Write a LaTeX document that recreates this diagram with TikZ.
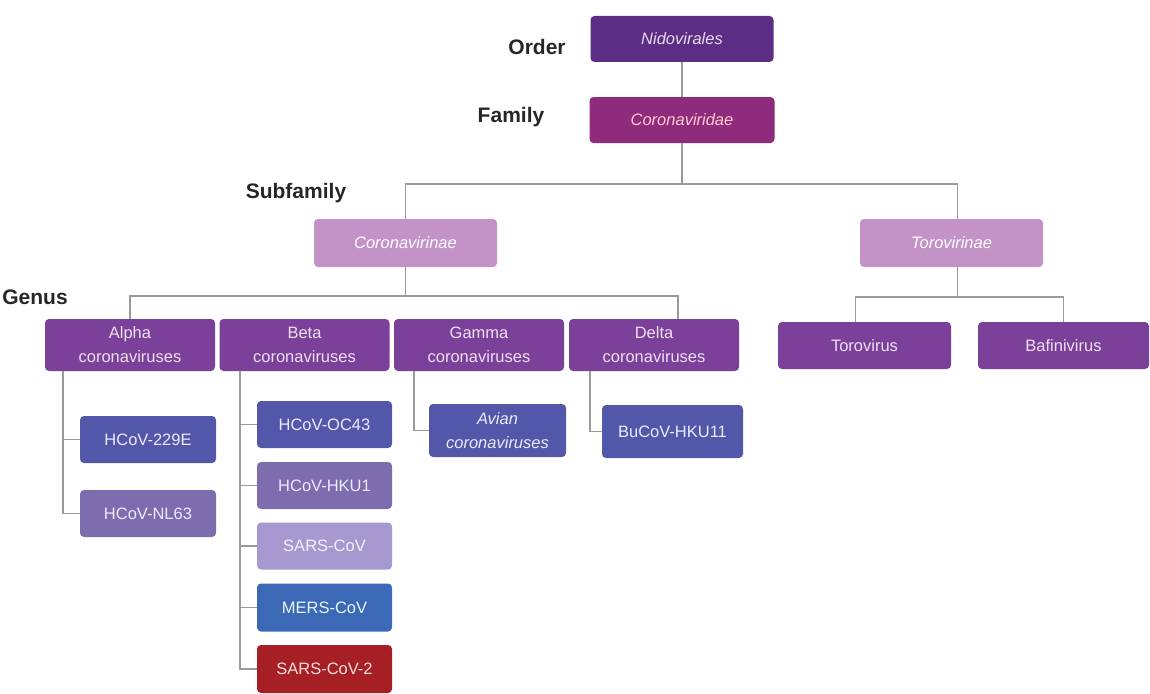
\documentclass[tikz,border=0pt]{standalone}
\usepackage{fontspec}
\setmainfont{Liberation Sans}
\usepackage{tikz}
\usetikzlibrary{positioning}
\definecolor{nido}{HTML}{5B2D85}
\definecolor{fami}{HTML}{8E2B7D}
\definecolor{subf}{HTML}{C393C8}
\definecolor{genu}{HTML}{7A409A}
\definecolor{blu}{HTML}{5357A9}
\definecolor{lav}{HTML}{7D6DAF}
\definecolor{pale}{HTML}{A699CF}
\definecolor{mers}{HTML}{3B69B6}
\definecolor{cov2}{HTML}{A51F24}
\definecolor{wire}{HTML}{9A9A9A}
\tikzset{
  box/.style={rounded corners=4pt,inner sep=0pt,align=center,
    font=\fontsize{16.5}{24}\selectfont},
  rank/.style={font=\fontsize{21}{24}\selectfont\bfseries,text=black!85},
  link/.style={draw=wire,line width=1.8pt},
}

\begin{document}
\begin{tikzpicture}[x=1pt,y=-1pt]
      \useasboundingbox (0,0) rectangle (1150,693);

      \node[rank] (order) at (537,47) {Order};
      \node[rank] (family) at (511,117) {Family};
      \node[rank] (subfamily) at (296,193) {Subfamily};
      \node[rank] (genus) at (35,297) {Genus};

      \node[box,fill=nido,text=violet!15,minimum width=183,minimum height=46] (nido) at (682,39) {\itshape Nidovirales};
      \node[box,fill=fami,text=pink!80,minimum width=185,minimum height=46] (fami) at (682,120) {\itshape Coronaviridae};

      \node[box,fill=subf,text=white,minimum width=183,minimum height=48] (cvn) at (405.5,243) {\itshape Coronavirinae};
      \node[box,fill=subf,text=white,minimum width=183,minimum height=48] (tvn) at (951.5,243) {\itshape Torovirinae};

      % genera
      \node[box,fill=genu,text=violet!12,minimum width=170,minimum height=52] (alpha) at (130,345) {Alpha\\coronaviruses};
      \node[box,fill=genu,text=violet!12,minimum width=170,minimum height=52] (beta) at (304.5,345) {Beta\\coronaviruses};
      \node[box,fill=genu,text=violet!12,minimum width=170,minimum height=52] (gamma) at (479,345) {Gamma\\coronaviruses};
      \node[box,fill=genu,text=violet!12,minimum width=170,minimum height=52] (delta) at (654,345) {Delta\\coronaviruses};
      \node[box,fill=genu,text=violet!12,minimum width=173,minimum height=47] (torov) at (864.5,345.5) {Torovirus};
      \node[box,fill=genu,text=violet!12,minimum width=171,minimum height=47] (bafin) at (1063.5,345.5) {Bafinivirus};

      % species
      \node[box,fill=blu,text=blue!8,minimum width=136,minimum height=47] (e229) at (148,439.5) {HCoV-229E};
      \node[box,fill=lav,text=blue!8,minimum width=136,minimum height=47] (nl63) at (148,513.5) {HCoV-NL63};
      \node[box,fill=blu,text=blue!8,minimum width=135,minimum height=47] (oc43) at (324.5,424.5) {HCoV-OC43};
      \node[box,fill=lav,text=blue!8,minimum width=135,minimum height=47] (hku1) at (324.5,485.5) {HCoV-HKU1};
      \node[box,fill=pale,text=blue!5,minimum width=135,minimum height=47] (sars) at (324.5,546) {SARS-CoV};
      \node[box,fill=mers,text=cyan!10,minimum width=135,minimum height=48] (mers) at (324.5,607.5) {MERS-CoV};
      \node[box,fill=cov2,text=red!12,minimum width=135,minimum height=48] (sars2) at (324.5,669) {SARS-CoV-2};
      \node[box,fill=blu,text=blue!8,minimum width=137,minimum height=53] (avian) at (497.5,430.5) {\itshape Avian\\\itshape coronaviruses};
      \node[box,fill=blu,text=blue!8,minimum width=141,minimum height=53] (bucov) at (672.5,431.5) {BuCoV-HKU11};

      \draw[link] (nido) -- (fami);
      \draw[link] (fami.south) -- ++(0,41) coordinate (sbar) -| (cvn.north);
      \draw[link] (sbar) -| ([xshift=6]tvn.north);

      \draw[link] (cvn.south) -- ++(0,29) coordinate (gbar) -| (alpha.north);
      \draw[link] (gbar) -| ([xshift=24]delta.north);
      \draw[link] ([xshift=6]tvn.south) -- ++(0,30) coordinate (tbar) -| ([xshift=-9]torov.north);
      \draw[link] (tbar) -| (bafin.north);

      \foreach \k in {e229,nl63} \draw[link] (alpha.south west) ++(18,0) |- (\k.west);
      \foreach \k in {oc43,hku1,sars,mers,sars2} \draw[link] (beta.south west) ++(21,0) |- (\k.west);
      \draw[link] (gamma.south west) ++(20,0) |- (avian.west);
      \draw[link] (delta.south west) ++(21,0) |- (bucov.west);
    \end{tikzpicture}
\end{document}
